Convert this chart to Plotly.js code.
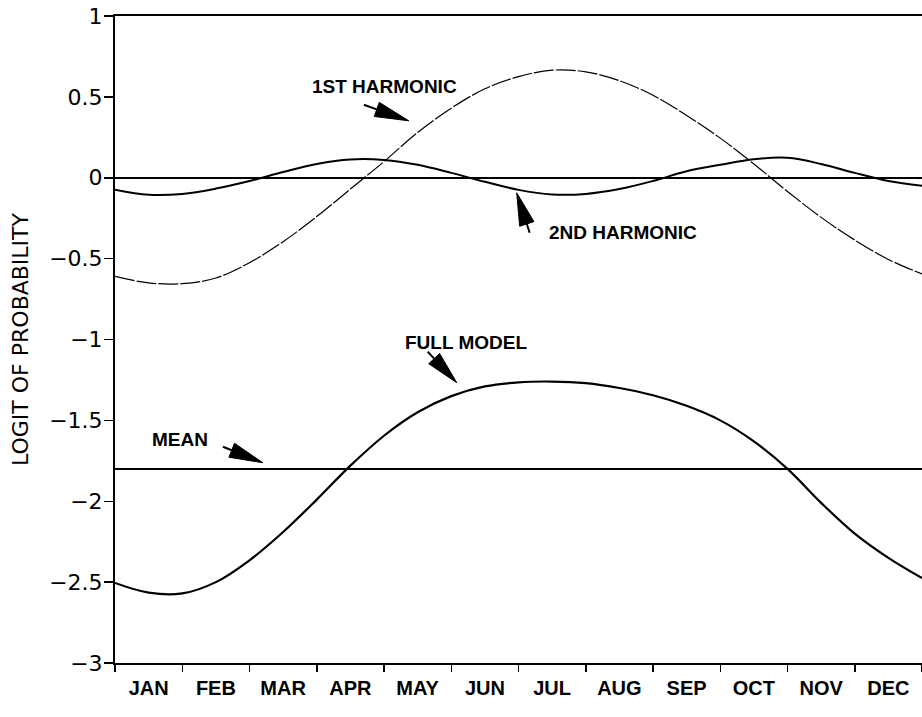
<!DOCTYPE html>
<html>
<head>
<meta charset="utf-8">
<script src="https://cdn.plot.ly/plotly-3.0.1.min.js"></script>
<style>html,body{margin:0;padding:0;background:#fff;}#chart{width:922px;height:717px;}</style>
</head>
<body>
<div id="chart"></div>
<script>
// ---- data ----
const months = ['JAN','FEB','MAR','APR','MAY','JUN','JUL','AUG','SEP','OCT','NOV','DEC'];
const monthCenters = [0.5,1.5,2.5,3.5,4.5,5.5,6.5,7.5,8.5,9.5,10.5,11.5];
const monthEdges = [0,1,2,3,4,5,6,7,8,9,10,11,12];
const t = [0,0.5,1,1.5,2,2.5,3,3.5,4,4.5,5,5.5,6,6.5,7,7.5,8,8.5,9,9.5,10,10.5,11,11.5,12];
const harmonic1 = [-0.61,-0.65,-0.655,-0.62,-0.525,-0.395,-0.24,-0.07,0.10,0.28,0.43,0.55,0.625,0.665,0.655,0.60,0.51,0.385,0.245,0.085,-0.085,-0.245,-0.385,-0.505,-0.595];
const harmonic2 = [-0.074,-0.105,-0.10,-0.067,-0.02,0.035,0.085,0.113,0.11,0.08,0.03,-0.025,-0.075,-0.103,-0.10,-0.07,-0.02,0.04,0.08,0.115,0.123,0.085,0.03,-0.02,-0.05];
const fullModel = [-2.505,-2.565,-2.57,-2.50,-2.365,-2.19,-1.99,-1.78,-1.595,-1.45,-1.35,-1.29,-1.265,-1.26,-1.27,-1.30,-1.345,-1.41,-1.50,-1.63,-1.80,-2.01,-2.20,-2.35,-2.475];
const meanX = [0,12];
const meanY = [-1.80,-1.80];

// label annotations: text, x, y (data units)
const labelText = ['1ST HARMONIC','2ND HARMONIC','FULL MODEL','MEAN'];
const labelX = [4.01,7.55,5.22,0.96];
const labelY = [0.563,-0.337,-1.017,-1.617];
// arrows: tip and tail (data units)
const arrowTipX = [4.368,5.973,5.082,2.199];
const arrowTipY = [0.352,-0.093,-1.267,-1.762];
const arrowTailX = [3.70,6.166,4.651,1.605];
const arrowTailY = [0.451,-0.340,-1.076,-1.663];

// pixel scale of the plot (for arrow head geometry only)
const KX = 807.6/12, KY = 647/4;
const shapes = [];
for (let i=0;i<arrowTipX.length;i++){
  const dxp = (arrowTipX[i]-arrowTailX[i])*KX, dyp = (arrowTipY[i]-arrowTailY[i])*KY;
  const L = Math.hypot(dxp,dyp), ux = dxp/L, uy = dyp/L;
  const hl = Math.min(34, L*0.78), hw = 7.5;
  const bx = -ux*hl, by = -uy*hl;
  const p1x = arrowTipX[i] + (bx - uy*hw)/KX, p1y = arrowTipY[i] + (by + ux*hw)/KY;
  const p2x = arrowTipX[i] + (bx + uy*hw)/KX, p2y = arrowTipY[i] + (by - ux*hw)/KY;
  shapes.push({type:'path', xref:'x', yref:'y',
    path:`M${arrowTipX[i]},${arrowTipY[i]} L${p1x},${p1y} L${p2x},${p2y} Z`,
    fillcolor:'black', line:{color:'black', width:1}});
  shapes.push({type:'line', xref:'x', yref:'y', x0:arrowTailX[i], y0:arrowTailY[i],
    x1:arrowTipX[i]+bx/KX, y1:arrowTipY[i]+by/KY, line:{color:'black', width:2}});
}

const annotations = labelText.map((s,i)=>({text:'<b>'+s+'</b>', x:labelX[i], y:labelY[i], xref:'x', yref:'y',
  showarrow:false, font:{family:'Liberation Sans, Arial, sans-serif', size:19, color:'black'}}));

const traces = [
  {x:t, y:harmonic1, mode:'lines', line:{color:'black', width:1.2, shape:'spline', dash:'20px,2px'}, name:'1st harmonic'},
  {x:t, y:harmonic2, mode:'lines', line:{color:'black', width:2, shape:'spline'}, name:'2nd harmonic'},
  {x:t, y:fullModel, mode:'lines', line:{color:'black', width:2.2, shape:'spline'}, name:'full model'},
  {x:meanX, y:meanY, mode:'lines', line:{color:'black', width:2}, name:'mean'}
];

const layout = {
  width:922, height:717,
  margin:{l:115, r:0, t:16, b:54},
  paper_bgcolor:'white', plot_bgcolor:'white',
  showlegend:false,
  font:{family:'Liberation Sans, Arial, sans-serif', color:'black'},
  xaxis:{range:[0,12], tickmode:'array', tickvals:monthCenters, ticktext:months.map(m=>'<b>'+m+'</b>'), ticks:'',
    showgrid:false, zeroline:false, showline:true, linecolor:'black', linewidth:2, mirror:true,
    tickfont:{family:'Liberation Sans, Arial, sans-serif', size:20, color:'black'}, ticklabelstandoff:6,
    minor:{tickmode:'array', tickvals:monthEdges, ticks:'outside', ticklen:7, tickwidth:1.5, tickcolor:'black', showgrid:false}},
  yaxis:{range:[-3,1], tickmode:'linear', tick0:-3, dtick:0.5, ticks:'outside', ticklen:9, tickwidth:1.5, tickcolor:'black',
    showgrid:false, zeroline:true, zerolinecolor:'black', zerolinewidth:1.5, showline:true, linecolor:'black', linewidth:2,
    tickfont:{family:'DejaVu Sans, sans-serif', size:22, color:'black'}, ticklabelstandoff:-3,
    title:{text:'LOGIT OF PROBABILITY', font:{family:'DejaVu Sans, sans-serif', size:22, color:'black'}, standoff:14}},
  shapes:shapes,
  annotations:annotations
};

Plotly.newPlot('chart', traces, layout, {displayModeBar:false, staticPlot:true});
</script>
</body>
</html>
